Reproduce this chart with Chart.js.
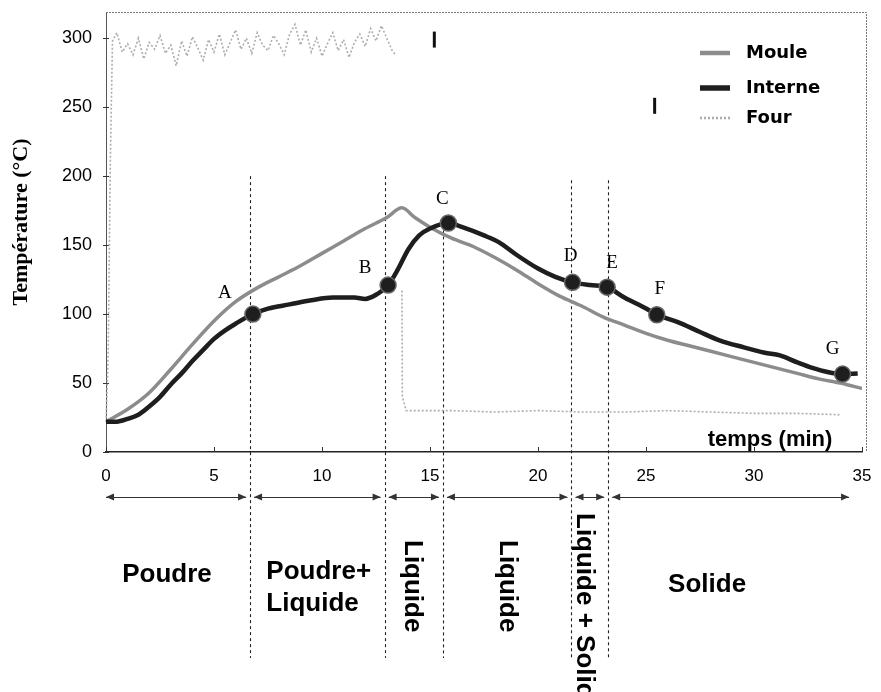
<!DOCTYPE html>
<html><head><meta charset="utf-8">
<script src="https://cdn.jsdelivr.net/npm/chart.js@4.4.0/dist/chart.umd.min.js"></script>
<style>html,body{margin:0;padding:0;background:#fff}</style>
</head><body>
<canvas id="c" width="881" height="692"></canvas>
<script>
// ---------- data ----------
const xTicks = [0, 5, 10, 15, 20, 25, 30, 35];
const yTicks = [0, 50, 100, 150, 200, 250, 300];

const ovenTime = [0,0.1,0.2,0.3,0.5,0.75,1,1.25,1.5,1.75,2,2.25,2.5,2.75,3,3.25,3.5,3.75,4,4.25,4.5,4.75,5,5.25,5.5,5.75,6,6.25,6.5,6.75,7,7.25,7.5,7.75,8,8.25,8.5,8.75,9,9.25,9.5,9.75,10,10.25,10.5,10.75,11,11.25,11.5,11.75,12,12.25,12.5,12.75,13,13.25,13.4,13.55,13.7,13.72,13.9,16,18,20,22,24,26,28,30,32,34];
const ovenTemp = [22,70,210,298,304,290,296,288,300,285,297,292,302,289,295,280,298,287,301,293,284,299,290,303,288,297,306,292,300,289,304,295,291,302,296,288,303,310,295,306,290,300,287,296,304,291,299,286,297,303,294,307,298,309,300,291,288,null,117,40,30,30,29,30,29,29,30,29,28,28,27];

const moldTime = [0,1,2,3,4,5,6,7,8,9,10,11,12,13,13.7,14.3,15,16,17,18,19,20,21,22,23,24,25,26,27,28,29,30,31,32,33,34,35];
const moldTemp = [22,31,43,60,78,95,109,119,127,135,144,153,162,170,177,170,163,155,149,141,132,122,113,106,98,92,86,81,77,73,69,65,61,57,53,50,46];

const coreTime = [0,0.5,1,1.5,2,2.5,3,3.5,4,4.5,5,5.5,6,6.8,7.5,8.5,9.5,10.5,11.5,12,12.5,13.06,13.5,14,14.5,15,15.85,16.5,17.5,18.2,19,20,20.8,21.6,22.4,23.2,24,25,25.5,26.5,27.5,28.4,29.5,30.5,31.2,32,32.7,33.4,34.1,34.8];
const coreTemp = [22,22,24,27,33,40,49,57,66,74,82,88,93,100,104,107,110,112,112,111,114,121,132,147,157,162,166,163,157,152,143,133,127,123,121,119.5,112,104,99.5,94,87,81,76,72,70,65,61,58,56.5,57];

const markerNames = ['A','B','C','D','E','F','G'];
const markerTime = [6.8,13.06,15.85,21.6,23.2,25.5,34.1];
const markerTemp = [100,121,166,123,119.5,99.5,56.5];

const probeTime = [15.2, 25.4];
const probeTemp = [299, 251];

const phaseBounds = [0, 6.67, 12.9, 15.6, 21.55, 23.25, 34.4];
const phaseNames = [['Poudre'], ['Poudre+','Liquide'], ['Liquide'], ['Liquide'], ['Liquide + Solide'], ['Solide']];
const boundaryTopTemp = [200, 200, 165, 197, 197];

const seriesNames = ['Moule', 'Interne', 'Four'];
const xTitle = 'temps (min)';
const yTitle = 'Température (°C)';

// ---------- styles ----------
const markerLabelOffset = [[-28,-21],[-23,-17],[-6,-24],[-2,-26],[5,-24],[3,-26],[-10,-25]];
const phaseLabelStyle = [
  {rot:false, align:'center', dx:-11, y:[575]},
  {rot:false, align:'left', dx:-51, y:[572,604]},
  {rot:true, dx:-2, y:[540]},
  {rot:true, dx:0, y:[540]},
  {rot:true, dx:-6, y:[513]},
  {rot:false, align:'center', dx:-28, y:[585]}
];

const zip = (xs, ys) => xs.map((x, i) => ({x: x, y: ys[i]}));

const decor = {
  id: 'decor',
  beforeDatasetsDraw(chart) {
    const {ctx, chartArea: a, scales: {x, y}} = chart;
    ctx.save();
    // frame top/right
    ctx.strokeStyle = '#777'; ctx.lineWidth = 1; ctx.setLineDash([2, 1]);
    ctx.beginPath();
    ctx.moveTo(a.left, a.top + 0.5); ctx.lineTo(a.right + 4.5, a.top + 0.5); ctx.lineTo(a.right + 4.5, a.bottom);
    ctx.stroke();
    // phase boundary dashed lines
    ctx.strokeStyle = '#222'; ctx.lineWidth = 1.1; ctx.setLineDash([3, 3]);
    for (let i = 1; i < phaseBounds.length - 1; i++) {
      const px = Math.round(x.getPixelForValue(phaseBounds[i])) + 0.5;
      ctx.beginPath();
      ctx.moveTo(px, y.getPixelForValue(boundaryTopTemp[i - 1]));
      ctx.lineTo(px, 658);
      ctx.stroke();
    }
    ctx.setLineDash([]);
    // tick marks
    ctx.strokeStyle = '#333'; ctx.lineWidth = 1;
    yTicks.forEach(v => {
      const py = Math.round(y.getPixelForValue(v)) + 0.5;
      ctx.beginPath(); ctx.moveTo(a.left - 3, py); ctx.lineTo(a.left + 3, py); ctx.stroke();
    });
    xTicks.forEach(v => {
      const px = Math.round(x.getPixelForValue(v)) + 0.5;
      ctx.beginPath(); ctx.moveTo(px, a.bottom); ctx.lineTo(px, a.bottom - 5); ctx.stroke();
    });
    ctx.restore();
  },
  afterDraw(chart) {
    const {ctx, chartArea: a, scales: {x, y}} = chart;
    ctx.save();
    ctx.fillStyle = '#000';
    // marker labels
    ctx.font = '19px "Liberation Serif"';
    ctx.textAlign = 'center'; ctx.textBaseline = 'middle';
    markerNames.forEach((n, i) => {
      const px = x.getPixelForValue(markerTime[i]) + markerLabelOffset[i][0];
      const py = y.getPixelForValue(markerTemp[i]) + markerLabelOffset[i][1];
      ctx.fillText(n, px, py);
    });
    // axis titles
    ctx.font = 'bold 22px "Liberation Sans"';
    ctx.fillText(xTitle, 770, 440);
    ctx.save();
    ctx.translate(21, 222); ctx.rotate(-Math.PI / 2);
    ctx.font = 'bold 22px "Liberation Serif"';
    ctx.fillText(yTitle, 0, 0);
    ctx.restore();
    // legend
    const legY = [53, 88, 118];
    seriesNames.forEach((n, i) => {
      const ds = chart.data.datasets.find(d => d.label === n);
      ctx.save();
      ctx.strokeStyle = ds.borderColor;
      ctx.lineWidth = ds.borderWidth + 1;
      ctx.setLineDash(ds.borderDash || []);
      ctx.beginPath(); ctx.moveTo(700, legY[i]); ctx.lineTo(730, legY[i]); ctx.stroke();
      ctx.restore();
      ctx.font = 'bold 18px "DejaVu Sans"';
      ctx.textAlign = 'left';
      ctx.fillText(n, 746, legY[i]);
    });
    // phase arrows
    const ay = 497;
    ctx.strokeStyle = '#333'; ctx.fillStyle = '#333'; ctx.lineWidth = 1;
    const head = (px, dir) => {
      ctx.beginPath(); ctx.moveTo(px, ay); ctx.lineTo(px - dir * 8, ay - 3.5); ctx.lineTo(px - dir * 8, ay + 3.5); ctx.closePath(); ctx.fill();
    };
    for (let i = 0; i < phaseBounds.length - 1; i++) {
      const x1 = x.getPixelForValue(phaseBounds[i]) + (i > 0 ? 4 : 0);
      const x2 = x.getPixelForValue(phaseBounds[i + 1]) - (i < phaseBounds.length - 2 ? 4 : 0);
      ctx.beginPath(); ctx.moveTo(x1, ay + 0.5); ctx.lineTo(x2, ay + 0.5); ctx.stroke();
      head(x1, -1); head(x2, 1);
    }
    // phase labels
    ctx.fillStyle = '#000';
    ctx.font = 'bold 26px "Liberation Sans"';
    for (let i = 0; i < phaseNames.length; i++) {
      const right = i === phaseNames.length - 1 ? a.right : x.getPixelForValue(phaseBounds[i + 1]);
      const cx = (x.getPixelForValue(phaseBounds[i]) + right) / 2 + phaseLabelStyle[i].dx;
      const st = phaseLabelStyle[i];
      if (st.rot) {
        ctx.save();
        ctx.translate(cx, st.y[0]); ctx.rotate(Math.PI / 2);
        ctx.textAlign = 'left'; ctx.textBaseline = 'middle';
        ctx.fillText(phaseNames[i][0], 0, 0);
        ctx.restore();
      } else {
        ctx.textAlign = st.align; ctx.textBaseline = 'middle';
        phaseNames[i].forEach((t, k) => ctx.fillText(t, cx, st.y[k]));
      }
    }
    ctx.restore();
  }
};

Chart.defaults.font.family = '"Liberation Sans"';
Chart.defaults.color = '#000';

new Chart(document.getElementById('c'), {
  type: 'line',
  data: {
    datasets: [
      {label: 'marqueurs', data: zip(markerTime, markerTemp), showLine: false, pointRadius: 8, pointHoverRadius: 8,
       backgroundColor: '#1e1e1e', borderColor: '#666', borderWidth: 1.5, order: 0},
      {label: 'sonde', data: zip(probeTime, probeTemp), showLine: false, pointStyle: 'line', rotation: 90,
       pointRadius: 8, borderColor: '#111', borderWidth: 3, order: 0},
      {label: 'Interne', data: zip(coreTime, coreTemp), borderColor: '#1e1e1e', borderWidth: 4.5,
       cubicInterpolationMode: 'monotone', pointRadius: 0, order: 1},
      {label: 'Moule', data: zip(moldTime, moldTemp), borderColor: '#8c8c8c', borderWidth: 3.5,
       cubicInterpolationMode: 'monotone', pointRadius: 0, order: 2},
      {label: 'Four', data: zip(ovenTime, ovenTemp), borderColor: '#adadad', borderWidth: 1.6, borderDash: [2, 2],
       tension: 0, spanGaps: false, pointRadius: 0, order: 3, clip: false}
    ]
  },
  options: {
    responsive: false, animation: false, devicePixelRatio: 1,
    layout: {padding: {top: 12, right: 19, left: 0, bottom: 0}},
    plugins: {legend: {display: false}, tooltip: {enabled: false}},
    scales: {
      x: {
        type: 'linear', min: 0, max: 35,
        ticks: {stepSize: 5, color: '#000', font: {size: 17}, padding: 14, maxRotation: 0},
        grid: {display: true, drawOnChartArea: false, drawTicks: false},
        border: {display: true, color: '#222', width: 1.5},
        afterFit(s) { s.height = 240; s.paddingLeft = 0; s.paddingRight = 0; }
      },
      y: {
        type: 'linear', min: 0, max: 319,
        ticks: {stepSize: 50, color: '#000', font: {size: 18}, padding: 14},
        afterBuildTicks(s) { s.ticks = s.ticks.filter(t => yTicks.includes(t.value)); },
        grid: {display: true, drawOnChartArea: false, drawTicks: false},
        border: {display: true, color: '#555', width: 1, dash: [2, 2]},
        afterFit(s) { s.width = 106; s.paddingTop = 0; s.paddingBottom = 0; }
      }
    }
  },
  plugins: [decor]
});
</script>
</body></html>
